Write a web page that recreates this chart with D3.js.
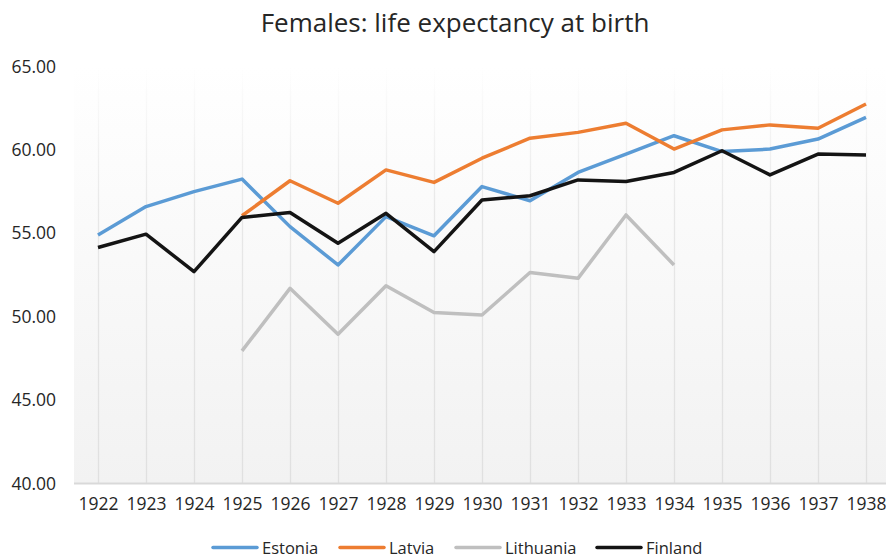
<!DOCTYPE html>
<html>
<head>
<meta charset="utf-8">
<script src="https://cdn.jsdelivr.net/npm/d3@7"></script>
<style>
    body { margin: 0; background: #fff; }
    text { font-family: "Open Sans", sans-serif; fill: #262626; }
</style>
</head>
<body>
<div id="chart"></div>
<script>
// Data
const years = [1922, 1923, 1924, 1925, 1926, 1927, 1928, 1929, 1930,
               1931, 1932, 1933, 1934, 1935, 1936, 1937, 1938];

const estonia   = [54.9, 56.6, 57.5, 58.25, 55.4, 53.1, 56.0, 54.85, 57.8,
                   56.95, 58.65, 59.75, 60.85, 59.9, 60.05, 60.65, 61.95];
const latvia    = [null, null, null, 56.05, 58.15, 56.8, 58.8, 58.05, 59.5,
                   60.7, 61.05, 61.6, 60.05, 61.2, 61.5, 61.3, 62.75];
const lithuania = [null, null, null, 47.95, 51.7, 48.95, 51.85, 50.25, 50.1,
                   52.65, 52.3, 56.1, 53.1, null, null, null, null];
const finland   = [54.15, 54.95, 52.7, 55.95, 56.25, 54.4, 56.2, 53.9, 57.0,
                   57.25, 58.2, 58.1, 58.65, 59.95, 58.5, 59.75, 59.7];

const yTicks = [40, 45, 50, 55, 60, 65];

const series = [
    { name: "Estonia",   values: estonia,   color: "#5b9bd5" },
    { name: "Latvia",    values: latvia,    color: "#ed7d31" },
    { name: "Lithuania", values: lithuania, color: "#bfbfbf" },
    { name: "Finland",   values: finland,   color: "#141414" }
];

// Dimensions
const viewW = 886;
const viewH = 559;
const plot = { left: 74, right: 886, top: 66.5, bottom: 483.5 };

const svg = d3.select("#chart")
    .append("svg")
    .attr("width", viewW)
    .attr("height", viewH);

// Scales
const x = d3.scalePoint()
    .domain(years)
    .range([98, 866]);

const y = d3.scaleLinear()
    .domain([40, 65])
    .range([plot.bottom, plot.top]);

// Plot background gradient
const defs = svg.append("defs");
const grad = defs.append("linearGradient")
    .attr("id", "bg")
    .attr("x1", 0).attr("y1", 0)
    .attr("x2", 0).attr("y2", 1);
grad.append("stop").attr("offset", "0%").attr("stop-color", "#ffffff");
grad.append("stop").attr("offset", "100%").attr("stop-color", "#f2f2f2");

// gridlines fade out towards the top (coords local to the axis group)
const gridGrad = defs.append("linearGradient")
    .attr("id", "gridFade")
    .attr("gradientUnits", "userSpaceOnUse")
    .attr("x1", 0).attr("y1", y(65) - y(40))
    .attr("x2", 0).attr("y2", 0);
gridGrad.append("stop").attr("offset", "0%").attr("stop-color", "#e3e3e3").attr("stop-opacity", 0);
gridGrad.append("stop").attr("offset", "35%").attr("stop-color", "#e3e3e3").attr("stop-opacity", 0.8);
gridGrad.append("stop").attr("offset", "100%").attr("stop-color", "#e0e0e0").attr("stop-opacity", 1);

svg.append("rect")
    .attr("x", plot.left)
    .attr("y", y(65))
    .attr("width", plot.right - plot.left)
    .attr("height", y(40) - y(65))
    .attr("fill", "url(#bg)");

// Vertical gridlines
const grid = svg.append("g")
    .attr("transform", `translate(0, ${y(40)})`)
    .call(d3.axisBottom(x).tickSize(-(y(40) - y(65))).tickFormat(""));
grid.select(".domain").remove();
grid.selectAll("line")
    .attr("stroke", "url(#gridFade)")
    .attr("stroke-width", 1.3);

// Baseline
svg.append("line")
    .attr("x1", plot.left)
    .attr("x2", plot.right)
    .attr("y1", y(40))
    .attr("y2", y(40))
    .attr("stroke", "#d9d9d9")
    .attr("stroke-width", 2);

// X axis labels
const xAxis = svg.append("g")
    .attr("transform", `translate(0, ${y(40)})`)
    .call(d3.axisBottom(x).tickSize(0).tickPadding(14));
xAxis.select(".domain").remove();
xAxis.selectAll("text")
    .style("font-size", "17.5px")
    .style("font-family", "'Open Sans', sans-serif")
    .attr("fill", "#262626");

// Y axis labels
const yAxis = svg.append("g")
    .attr("transform", `translate(${plot.left}, 0)`)
    .call(d3.axisLeft(y).tickValues(yTicks).tickFormat(d3.format(".2f")).tickSize(0).tickPadding(18));
yAxis.select(".domain").remove();
yAxis.selectAll("text")
    .style("font-size", "17.5px")
    .style("font-family", "'Open Sans', sans-serif")
    .attr("fill", "#262626");

// Lines
const line = d3.line()
    .defined(d => d != null)
    .x((d, i) => x(years[i]))
    .y(d => y(d));

svg.selectAll(".series")
    .data(series)
    .join("path")
    .attr("class", "series")
    .attr("fill", "none")
    .attr("stroke", d => d.color)
    .attr("stroke-width", 3.5)
    .attr("stroke-linejoin", "round")
    .attr("d", d => line(d.values));

// Title
svg.append("text")
    .attr("x", 455)
    .attr("y", 22)
    .attr("text-anchor", "middle")
    .attr("dominant-baseline", "central")
    .style("font-size", "26px")
    .text("Females: life expectancy at birth");

// Legend
const legendX = [213, 340, 456, 597];
const legend = svg.append("g");
series.forEach((s, i) => {
    const g = legend.append("g")
        .attr("transform", `translate(${legendX[i]}, 547.5)`);
    g.append("line")
        .attr("x1", 0).attr("x2", 44)
        .attr("y1", 0).attr("y2", 0)
        .attr("stroke", s.color)
        .attr("stroke-width", 3.5)
        .attr("stroke-linecap", "round");
    g.append("text")
        .attr("x", 49)
        .attr("y", 0)
        .attr("dominant-baseline", "central")
        .style("font-size", "16.5px")
        .text(s.name);
});
</script>
</body>
</html>
